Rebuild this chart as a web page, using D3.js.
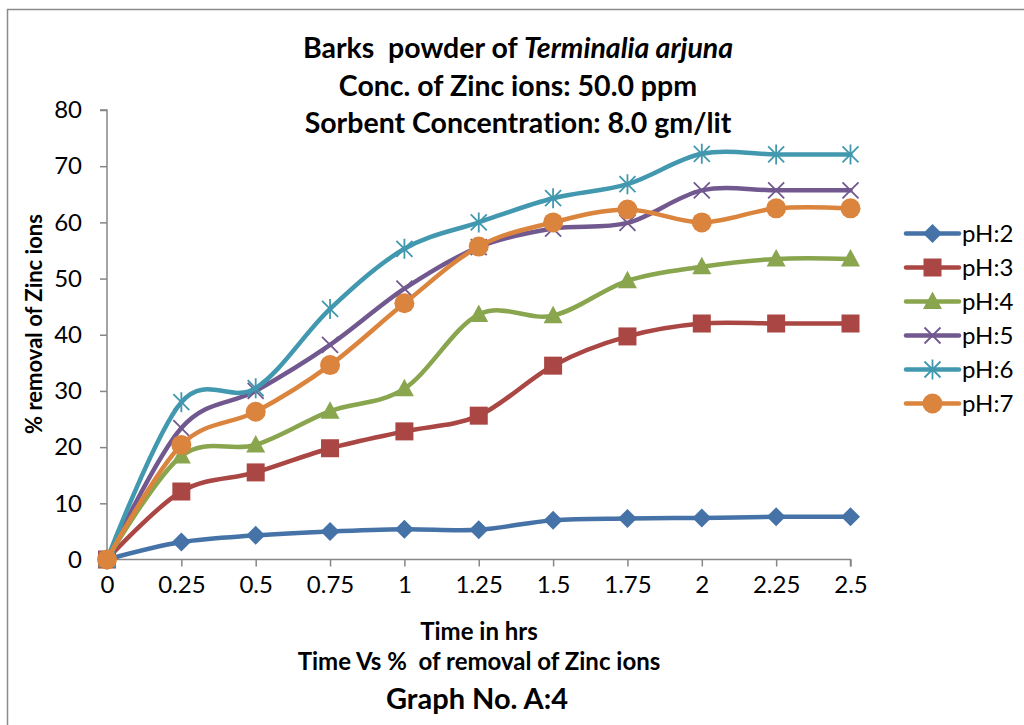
<!DOCTYPE html>
<html>
<head>
  <meta charset="utf-8">
  <title>Time Vs % of removal of Zinc ions</title>
  <style>
    body { margin: 0; padding: 0; background: white; }
    svg { display: block; font-family: Lato, "Open Sans", sans-serif; }
    text { white-space: pre; font-variant-ligatures: none; }
    .axis path, .axis line { stroke: #868686; stroke-width: 1.5; }
    .axis text { font-family: Lato, "Open Sans", sans-serif; font-size: 24px; fill: #000; }
    .title { font-size: 28.5px; font-weight: bold; text-anchor: middle; }
    .axis-title { font-size: 24px; font-weight: bold; text-anchor: middle; }
    .legend text { font-size: 24px; }
  </style>
</head>
<body>
<div id="chart"></div>

<script src="https://d3js.org/d3.v7.min.js"></script>
<script>

// time in hrs (category labels)
var times = ["0", "0.25", "0.5", "0.75", "1", "1.25", "1.5", "1.75", "2", "2.25", "2.5"]
var yTicks = [0, 10, 20, 30, 40, 50, 60, 70, 80]

// % removal of zinc ions for each pH
var ph2 = [0, 3.1, 4.3, 5.0, 5.4, 5.3, 7.0, 7.3, 7.4, 7.6, 7.6]
var ph3 = [0, 12.1, 15.5, 19.8, 22.8, 25.6, 34.5, 39.7, 42.0, 42.0, 42.0]
var ph4 = [0, 18.4, 20.4, 26.4, 30.4, 43.6, 43.4, 49.6, 52.1, 53.5, 53.5]
var ph5 = [0, 23.4, 30.0, 38.2, 48.2, 55.6, 58.9, 59.9, 65.7, 65.7, 65.7]
var ph6 = [0, 28.0, 30.5, 44.6, 55.3, 60.0, 64.3, 66.8, 72.2, 72.1, 72.1]
var ph7 = [0, 20.4, 26.3, 34.6, 45.6, 55.7, 60.0, 62.3, 60.0, 62.5, 62.5]

var seriesNames = ["pH:2", "pH:3", "pH:4", "pH:5", "pH:6", "pH:7"]
var seriesValues = [ph2, ph3, ph4, ph5, ph6, ph7]
var colors = ["#4572A7", "#AA4643", "#89A54E", "#71588F", "#4198AF", "#DB843D"]
var markers = ["diamond", "square", "triangle", "cross", "star", "circle"]

var width = 1024,
    height = 725

var svg = d3.select("#chart").append("svg")
    .attr("width", width)
    .attr("height", height)

// chart frame (only left & top edges are visible in the picture)
svg.append("rect")
    .attr("x", 7.5).attr("y", 9.5)
    .attr("width", 1100).attr("height", 800)
    .attr("fill", "white")
    .attr("stroke", "#8c8c8c")
    .attr("stroke-width", 1.5)

var x = d3.scalePoint().domain(times).range([107, 850.5])
var y = d3.scaleLinear().domain([0, 80]).range([559.5, 110])

// y axis
var yAxis = svg.append("g")
    .attr("class", "axis")
    .attr("transform", "translate(107,0)")
    .call(d3.axisLeft(y).tickValues(yTicks).tickSize(7).tickPadding(18))
yAxis.select(".domain").attr("d", "M-7," + y(80) + "H0V" + y(0))

// x axis
var xAxis = svg.append("g")
    .attr("class", "axis")
    .attr("transform", "translate(0," + y(0) + ")")
    .call(d3.axisBottom(x).tickSize(7).tickPadding(9))
xAxis.select(".domain").attr("d", "M" + x("0") + ",0H" + x("2.5") + "V7")
xAxis.selectAll(".tick").filter(function (d) { return d === "0" }).select("line").remove()

// lines (Excel style smoothing)
var line = d3.line()
    .x(function (d, i) { return x(times[i]) })
    .y(function (d) { return y(d) })
    .curve(d3.curveCardinal.tension(0))

function drawMarker(g, type, color) {
  if (type === "diamond") {
    g.append("path").attr("d", "M0,-9.5L9.5,0L0,9.5L-9.5,0Z").attr("fill", color)
  } else if (type === "square") {
    g.append("rect").attr("x", -9).attr("y", -9).attr("width", 18).attr("height", 18).attr("fill", color)
  } else if (type === "triangle") {
    g.append("path").attr("d", "M0,-10L9.5,7.5L-9.5,7.5Z").attr("fill", color)
  } else if (type === "cross") {
    g.append("path").attr("d", "M-8,-8L8,8M-8,8L8,-8")
      .attr("stroke", color).attr("stroke-width", 1.8).attr("fill", "none")
  } else if (type === "star") {
    g.append("path").attr("d", "M-8,-8L8,8M-8,8L8,-8M0,-10V10")
      .attr("stroke", color).attr("stroke-width", 1.8).attr("fill", "none")
  } else if (type === "circle") {
    g.append("circle").attr("r", 10).attr("fill", color)
  }
}

seriesValues.forEach(function (vals, s) {
  var g = svg.append("g")
  g.append("path")
      .attr("d", line(vals))
      .attr("fill", "none")
      .attr("stroke", colors[s])
      .attr("stroke-width", 4.5)
      .attr("stroke-linejoin", "round")
      .attr("stroke-linecap", "round")
  vals.forEach(function (v, i) {
    var m = g.append("g").attr("transform", "translate(" + x(times[i]) + "," + y(v) + ")")
    drawMarker(m, markers[s], colors[s])
  })
})

// legend
var legend = svg.append("g").attr("class", "legend")
seriesNames.forEach(function (name, s) {
  var ly = 233.5 + s * 34
  var item = legend.append("g").attr("transform", "translate(0," + ly + ")")
  item.append("line")
      .attr("x1", 906).attr("x2", 959)
      .attr("stroke", colors[s]).attr("stroke-width", 4.5)
      .attr("stroke-linecap", "round")
  var m = item.append("g").attr("transform", "translate(932.5,0)")
  drawMarker(m, markers[s], colors[s])
  item.append("text")
      .attr("x", 962).attr("y", 8)
      .text(name)
})

// titles
var title = svg.append("text").attr("class", "title").attr("x", 518).attr("y", 58)
title.append("tspan").text("Barks  powder of ")
title.append("tspan").attr("font-style", "italic").text("Terminalia arjuna")
svg.append("text").attr("class", "title").attr("x", 518).attr("y", 96)
    .text("Conc. of Zinc ions: 50.0 ppm")
svg.append("text").attr("class", "title").attr("x", 518).attr("y", 133)
    .text("Sorbent Concentration: 8.0 gm/lit")

svg.append("text").attr("class", "axis-title")
    .attr("transform", "translate(42,324) rotate(-90)")
    .style("font-size", "22px")
    .text("% removal of Zinc ions")

svg.append("text").attr("class", "axis-title").attr("x", 479).attr("y", 640)
    .text("Time in hrs")
svg.append("text").attr("class", "axis-title").attr("x", 479).attr("y", 670)
    .text("Time Vs %  of removal of Zinc ions")
svg.append("text").attr("class", "axis-title").attr("x", 477).attr("y", 709)
    .style("font-size", "29px")
    .text("Graph No. A:4")

</script>
</body>
</html>
